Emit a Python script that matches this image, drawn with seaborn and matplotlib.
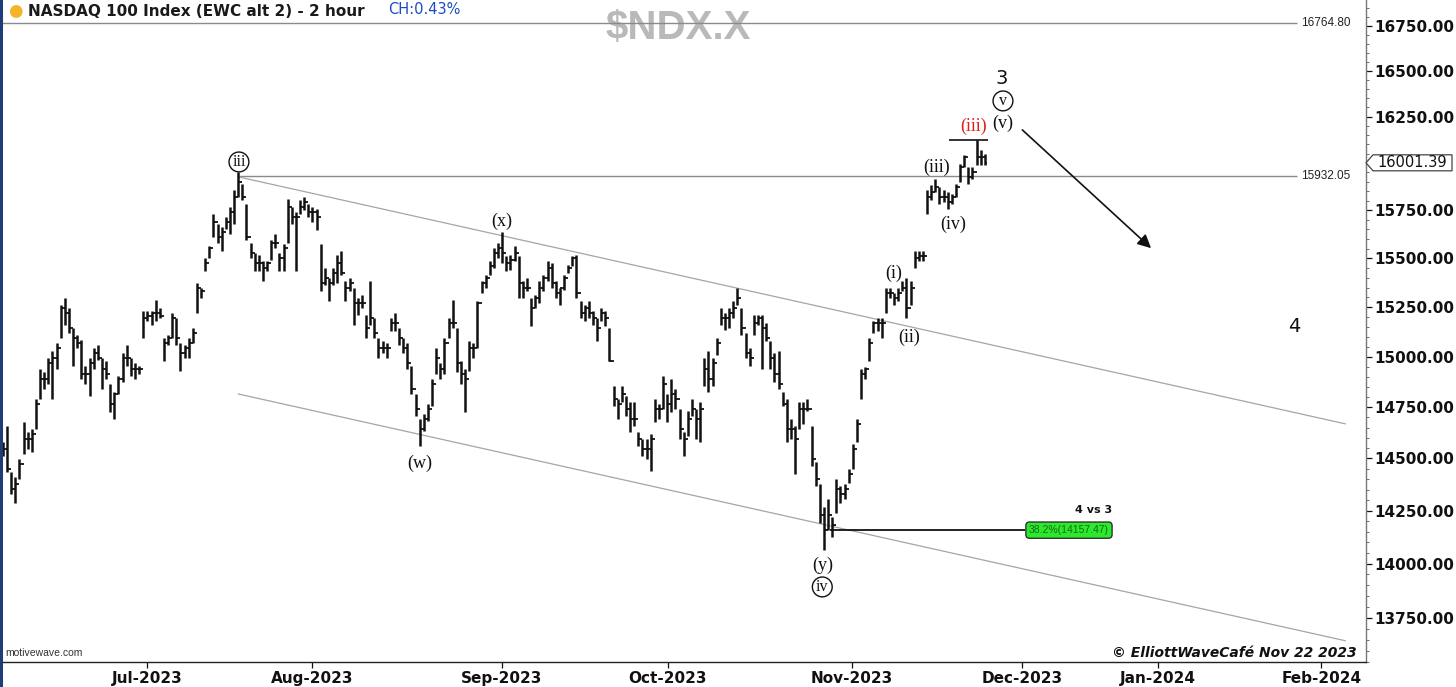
import numpy as np
import matplotlib
matplotlib.use("Agg")
import matplotlib.pyplot as plt
import seaborn as sns
from matplotlib.ticker import FixedLocator, FuncFormatter, NullFormatter
from matplotlib.patches import Polygon
from matplotlib.lines import Line2D

# ---------------- data (2-hour bars) ----------------
highs = [14579, 14658, 14433, 14409, 14496, 14678, 14628, 14643, 14791, 14941,
         14926, 14992, 15027, 15068, 15261, 15297, 15246, 15144, 15108, 15083,
         14956, 14992, 15042, 15057, 14992, 14977, 14866, 14826, 14906, 15017,
         15057, 14992, 14967, 14956, 15231, 15231, 15231, 15287, 15246, 15093,
         15108, 15220, 15195, 15068, 15057, 15093, 15144, 15374, 15348, 15504,
         15566, 15730, 15677, 15661, 15714, 15767, 15857, 15953, 15889, 15783,
         15582, 15530, 15519, 15488, 15488, 15593, 15625, 15530, 15572, 15809,
         15767, 15741, 15804, 15820, 15783, 15767, 15757, 15572, 15452, 15400,
         15452, 15519, 15540, 15384, 15400, 15348, 15297, 15312, 15210, 15384,
         15195, 15093, 15078, 15068, 15195, 15220, 15144, 15093, 15068, 14956,
         14816, 14693, 14717, 14767, 14891, 15042, 14967, 15093, 15195, 15287,
         15144, 14977, 14941, 15078, 15068, 15282, 15384, 15416, 15488, 15556,
         15582, 15635, 15514, 15519, 15566, 15514, 15384, 15400, 15297, 15312,
         15384, 15416, 15488, 15478, 15384, 15348, 15416, 15467, 15514, 15519,
         15282, 15261, 15282, 15231, 15195, 15246, 15231, 15144, 14856, 14791,
         14856, 14806, 14777, 14777, 14628, 14594, 14594, 14618, 14791, 14767,
         14906, 14816, 14891, 14841, 14742, 14628, 14732, 14791, 14742, 14777,
         14992, 15027, 14992, 15093, 15246, 15220, 15246, 15282, 15348, 15246,
         15119, 15042, 15210, 15210, 15210, 15170, 15078, 15017, 15027, 14826,
         14791, 14693, 14658, 14777, 14777, 14791, 14658, 14481, 14375, 14269,
         14303, 14221, 14399, 14365, 14375, 14447, 14570, 14693, 14941, 14951,
         15093, 15180, 15195, 15195, 15348, 15348, 15323, 15348, 15384, 15400,
         15384, 15540, 15540, 15540, 15857, 15884, 15916, 15873, 15857, 15846,
         15836, 15889, 15996, 16045, 15980, 15980, 16122, 16072, 16050]

lows = [14511, 14433, 14327, 14288, 14399, 14520, 14545, 14530, 14643, 14791,
        14841, 14866, 14791, 14941, 15093, 15159, 15119, 14956, 15042, 14891,
        14866, 14806, 14941, 14982, 14841, 14891, 14727, 14693, 14816, 14876,
        14956, 14906, 14891, 14916, 15093, 15180, 15159, 15180, 15195, 14977,
        15057, 15093, 15057, 14931, 14992, 14992, 15068, 15220, 15297, 15436,
        15504, 15609, 15582, 15540, 15651, 15625, 15677, 15820, 15804, 15593,
        15504, 15436, 15436, 15384, 15436, 15493, 15556, 15436, 15436, 15582,
        15677, 15436, 15730, 15751, 15714, 15688, 15645, 15333, 15364, 15282,
        15364, 15374, 15416, 15282, 15333, 15159, 15210, 15246, 15093, 15159,
        15093, 14992, 15017, 14992, 15129, 15129, 15057, 15017, 14941, 14816,
        14708, 14560, 14633, 14683, 14757, 14916, 14891, 14916, 15093, 15144,
        14926, 14866, 14727, 14931, 14992, 15042, 15323, 15348, 15416, 15452,
        15504, 15478, 15436, 15441, 15488, 15297, 15297, 15333, 15154, 15246,
        15271, 15333, 15384, 15348, 15297, 15261, 15338, 15426, 15462, 15297,
        15195, 15180, 15195, 15159, 15078, 15180, 15154, 14977, 14757, 14693,
        14777, 14708, 14628, 14658, 14560, 14511, 14496, 14437, 14678, 14693,
        14742, 14678, 14727, 14742, 14594, 14511, 14609, 14708, 14594, 14579,
        14856, 14826, 14856, 15007, 15159, 15134, 15144, 15195, 15261, 15108,
        14992, 14956, 15108, 15159, 14941, 15078, 14941, 14876, 14841, 14757,
        14579, 14594, 14423, 14643, 14668, 14732, 14462, 14365, 14193, 14064,
        14159, 14126, 14240, 14288, 14303, 14384, 14447, 14579, 14791, 14891,
        14977, 15119, 15129, 15093, 15220, 15297, 15261, 15282, 15333, 15195,
        15261, 15452, 15488, 15488, 15730, 15804, 15846, 15783, 15793, 15757,
        15783, 15820, 15900, 15980, 15889, 15916, 15991, 15991, 15991]

closes = [14545, 14447, 14351, 14375, 14472, 14594, 14594, 14619, 14767, 14891,
          14891, 14967, 14992, 15042, 15246, 15220, 15144, 15093, 15068, 14916,
          14916, 14967, 15017, 14992, 14941, 14916, 14767, 14816, 14891, 14992,
          14992, 14941, 14941, 14941, 15195, 15205, 15220, 15220, 15205, 15068,
          15093, 15195, 15093, 15017, 15042, 15068, 15119, 15348, 15333, 15478,
          15556, 15688, 15609, 15635, 15688, 15741, 15820, 15900, 15820, 15609,
          15530, 15478, 15478, 15452, 15478, 15582, 15582, 15504, 15556, 15767,
          15714, 15714, 15767, 15793, 15741, 15741, 15714, 15374, 15400, 15374,
          15426, 15478, 15426, 15348, 15374, 15271, 15271, 15271, 15144, 15195,
          15119, 15042, 15042, 15042, 15170, 15170, 15093, 15042, 14967, 14841,
          14742, 14643, 14693, 14742, 14866, 14992, 14941, 15068, 15170, 15170,
          14967, 14916, 14891, 15042, 15042, 15271, 15374, 15400, 15462, 15530,
          15556, 15530, 15478, 15493, 15530, 15374, 15348, 15348, 15246, 15297,
          15348, 15400, 15452, 15374, 15323, 15348, 15400, 15452, 15504, 15323,
          15220, 15246, 15220, 15195, 15144, 15220, 15195, 14977, 14791, 14767,
          14816, 14742, 14693, 14693, 14594, 14545, 14545, 14594, 14742, 14742,
          14866, 14767, 14816, 14791, 14643, 14594, 14693, 14742, 14693, 14742,
          14941, 14891, 14967, 15068, 15195, 15195, 15220, 15246, 15297, 15144,
          15017, 14992, 15170, 15195, 15144, 15093, 14992, 14916, 14866, 14767,
          14643, 14643, 14594, 14742, 14742, 14742, 14496, 14399, 14230, 14159,
          14230, 14183, 14351, 14327, 14351, 14423, 14545, 14668, 14916, 14941,
          15068, 15170, 15170, 15170, 15323, 15323, 15297, 15323, 15348, 15246,
          15348, 15504, 15514, 15514, 15820, 15846, 15873, 15820, 15820, 15793,
          15820, 15873, 15980, 16034, 15927, 15953, 16034, 16034, 16001.39]

month_labels = ["Jul-2023", "Aug-2023", "Sep-2023", "Oct-2023",
                "Nov-2023", "Dec-2023", "Jan-2024", "Feb-2024"]
month_pos = [17.45, 37.45, 60.48, 80.6, 102.9, 123.5, 140.0, 159.8]
# 16000.00 is covered by the last-price tag in the reference
price_ticks = [13750, 14000, 14250, 14500, 14750, 15000, 15250, 15500,
               15750, 16250, 16500, 16750]
last_price = 16001.39
level_high = 16764.80
level_iii = 15932.05
fib_382 = 14157.47

# ---------------- figure ----------------
sns.set_theme(style="white")
plt.rcParams['font.family'] = ['DejaVu Sans']

W, H = 1456, 687
fig = plt.figure(figsize=(W / 100, H / 100), dpi=100)
fig.patch.set_facecolor("white")
ax = fig.add_axes([2 / W, 1 - 662 / H, (1366 - 2) / W, 662 / H])
ax.set_facecolor("white")

n = len(highs)
x = np.arange(n) * 0.5
opens = [closes[0]] + closes[:-1]
bar_col = "#111111"
ax.vlines(x, lows, highs, color=bar_col, lw=1.8, zorder=3)
ax.hlines(opens, x - 0.25, x, color=bar_col, lw=1.3, zorder=3)
ax.hlines(closes, x, x + 0.25, color=bar_col, lw=1.3, zorder=3)

ax.set_yscale("log")
ax.set_ylim(13548.7, 16893.8)
ax.set_xlim(-0.12, 165.2)
ax.grid(False)

# y axis on the right
ax.yaxis.tick_right()
ax.yaxis.set_major_locator(FixedLocator(price_ticks))
ax.yaxis.set_major_formatter(FuncFormatter(lambda v, p: f"{v:.2f}"))
ax.yaxis.set_minor_locator(FixedLocator(np.arange(13550, 16900, 50)))
ax.yaxis.set_minor_formatter(NullFormatter())
ax.tick_params(axis="y", which="major", right=True, left=False, length=4,
               width=0.9, direction="out", labelsize=11, pad=2,
               colors="#111111")
ax.tick_params(axis="y", which="minor", right=True, left=False, length=2.5,
               width=0.6, direction="out", colors="#555555")
plt.setp(ax.get_yticklabels(), fontweight="bold")

# x axis
ax.set_xticks(month_pos)
ax.set_xticklabels(month_labels)
ax.tick_params(axis="x", which="major", bottom=True, length=4.5, width=0.9,
               direction="out", labelsize=11, pad=2, colors="#111111")
plt.setp(ax.get_xticklabels(), fontweight="bold")

for s in ["top", "left"]:
    ax.spines[s].set_visible(False)
ax.spines["right"].set_color("#777777")
ax.spines["right"].set_linewidth(1.0)
ax.spines["bottom"].set_color("#222222")
ax.spines["bottom"].set_linewidth(1.0)

# left border (panel frame)
fig.add_artist(Line2D([0.8 / W, 0.8 / W], [0, 1], transform=fig.transFigure,
                      color="#1d3c78", lw=2.2))

# watermark
ax.text((678 - 2) / 1364, (662 - 28) / 662, "$NDX.X", transform=ax.transAxes,
        ha="center", va="center", fontsize=29, fontweight="bold",
        family="Liberation Sans", color="#b9b9b9", zorder=0)

# horizontal level lines
ax.hlines(level_high, -0.12, 156.8, color="#8a8a8a", lw=1.0, zorder=2)
ax.text(157.3, level_high, f"{level_high:.2f}", ha="left", va="center",
        fontsize=8.5, family="Liberation Sans", color="#222222")
ax.hlines(level_iii, 28.6, 156.8, color="#8a8a8a", lw=1.0, zorder=2)
ax.text(157.3, level_iii, f"{level_iii:.2f}", ha="left", va="center",
        fontsize=8.5, family="Liberation Sans", color="#222222")

# channel lines
ax.plot([28.6, 162.7], [15926, 14668], color="#a5a5a5", lw=0.9, zorder=2)
ax.plot([28.5, 162.7], [14815, 13645], color="#a5a5a5", lw=0.9, zorder=2)

# fib 38.2% marker
ax.hlines(fib_382, 100.2, 123.9, color="#111111", lw=1.3, zorder=4)
ax.text(129.2, fib_382, f"38.2%({fib_382:.2f})", ha="center", va="center",
        fontsize=7.5, family="Liberation Sans", color="#146b14", zorder=5,
        bbox=dict(boxstyle="round,pad=0.3,rounding_size=0.35", fc="#2ee82e",
                  ec="#222222", lw=0.9))
ax.text(134.4, 14255, "4 vs 3", ha="right", va="center", fontsize=8,
        fontweight="bold", color="#111111")

# red (iii) top line
ax.hlines(16122, 114.7, 119.4, color="#111111", lw=1.2, zorder=4)

# wave labels
serif = "Liberation Serif"
plain_labels = [
    ("(x)", 60.5, 15694, "#111111"),
    ("(w)", 50.5, 14478, "#111111"),
    ("(y)", 99.3, 13994, "#111111"),
    ("(i)", 108.0, 15424, "#111111"),
    ("(ii)", 109.8, 15099, "#111111"),
    ("(iii)", 113.2, 15979, "#111111"),
    ("(iv)", 115.2, 15678, "#111111"),
    ("(iii)", 117.6, 16199, "#e02020"),
    ("(v)", 121.2, 16215, "#111111"),
]
for t, lx, ly, c in plain_labels:
    ax.text(lx, ly, t, ha="center", va="center", fontsize=13, family=serif,
            color=c, zorder=6)

circled_labels = [
    ("iii", 28.6, 16006),
    ("iv", 99.3, 13892),
    ("v", 121.2, 16335),
]
for t, lx, ly in circled_labels:
    ax.text(lx, ly, t, ha="center", va="center", fontsize=11.5, family=serif,
            color="#111111", zorder=6,
            bbox=dict(boxstyle="circle,pad=0.12", fc="white", ec="#111111",
                      lw=1.0))

ax.text(121.0, 16460, "3", ha="center", va="center", fontsize=14,
        color="#111111", zorder=6)
ax.text(156.5, 15154, "4", ha="center", va="center", fontsize=14,
        color="#111111", zorder=6)

# projected arrow
ax.annotate("", xy=(139.4, 15543), xytext=(123.3, 16188),
            arrowprops=dict(arrowstyle="-|>", color="#111111", lw=1.2,
                            mutation_scale=20), zorder=6)

# title bar texts
fig.text(8 / W, 1 - 11 / H, "●", ha="left", va="center", fontsize=12,
         color="#f5b52a")
fig.text(28 / W, 1 - 12 / H, "NASDAQ 100 Index (EWC alt 2) - 2 hour",
         ha="left", va="center", fontsize=11, fontweight="bold",
         color="#1a1a1a")
fig.text(388 / W, 1 - 10 / H, "CH:0.43%", ha="left", va="center",
         fontsize=10.5, color="#1a4cbf")

fig.text(5 / W, 1 - 653 / H, "motivewave.com", ha="left", va="center",
         fontsize=7.5, family="Liberation Sans", color="#333333")
fig.text(1357 / W, 1 - 653 / H, "© ElliottWaveCafé Nov 22 2023", ha="right",
         va="center", fontsize=10, style="italic", fontweight="bold",
         color="#111111")

# last price tag on the axis
fig.canvas.draw()
ypx = ax.transData.transform((0, last_price))[1]
tag = np.array([[1366, ypx], [1373, ypx + 8], [1452, ypx + 8],
                [1452, ypx - 8], [1373, ypx - 8]])
tag[:, 0] /= W
tag[:, 1] /= H
fig.add_artist(Polygon(tag, closed=True, transform=fig.transFigure,
                       fc="white", ec="#444444", lw=0.9))
fig.text(1412 / W, ypx / H, f"{last_price:.2f}", ha="center", va="center",
         fontsize=10.5, color="#111111")

fig.savefig("out.png", dpi=100, facecolor="white")
